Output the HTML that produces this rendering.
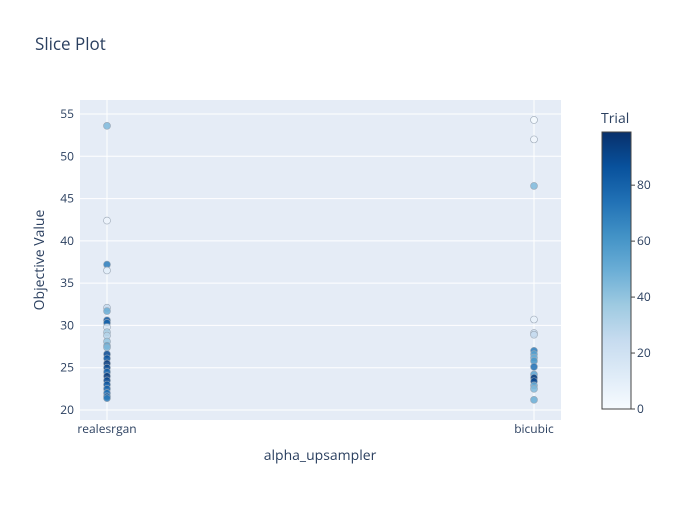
<!DOCTYPE html>
<html><head><meta charset="utf-8"><style>
body{margin:0;background:#fff;font-family:"Liberation Sans",sans-serif}
svg text{font-family:"Open Sans","Liberation Sans",sans-serif;fill:#2a3f5f}
</style></head><body>
<svg id="c" width="700" height="500">
<defs><linearGradient id="blues" x1="0" y1="1" x2="0" y2="0">
<stop offset="0" stop-color="rgb(247,251,255)"/><stop offset="0.125" stop-color="rgb(222,235,247)"/>
<stop offset="0.25" stop-color="rgb(198,219,239)"/><stop offset="0.375" stop-color="rgb(158,202,225)"/>
<stop offset="0.5" stop-color="rgb(107,174,214)"/><stop offset="0.625" stop-color="rgb(66,146,198)"/>
<stop offset="0.75" stop-color="rgb(33,113,181)"/><stop offset="0.875" stop-color="rgb(8,81,156)"/>
<stop offset="1" stop-color="rgb(8,48,107)"/></linearGradient></defs>
<rect width="700" height="500" fill="#fff"/>
<text x="35" y="50" font-size="17">Slice Plot</text>
<rect x="80" y="100" width="481" height="320" fill="#e5ecf6"/>
<g id="grid"></g><g id="pts"></g>
<text x="320" y="460" font-size="14" text-anchor="middle">alpha_upsampler</text>
<text transform="translate(44,260) rotate(-90)" font-size="14" text-anchor="middle">Objective Value</text>
<text x="601" y="123" font-size="14">Trial</text>
<rect x="602" y="132" width="29" height="277" fill="url(#blues)" stroke="#444" stroke-width="1"/>
<g id="cb"></g>
</svg>
<script>
const categories=["realesrgan","bicubic"];
const realVals=[53.6,42.4,37.2,36.5,32.1,31.7,30.6,30.3,29.8,29.2,28.8,28.1,27.6,27.4,26.6,26.1,25.5,25.0,24.5,24.0,23.5,23.0,22.5,22.0,21.6,21.4];
const realTrials=[45,5,70,10,25,50,85,80,15,35,30,40,55,45,90,85,95,90,80,95,90,85,80,75,85,70];
const bicVals=[54.3,52.0,46.5,30.7,29.1,28.9,27.0,26.6,26.2,25.8,25.1,24.2,23.8,23.4,22.9,22.5,21.2];
const bicTrials=[1,3,45,8,20,25,70,55,50,60,75,55,95,90,50,45,50];
const yTicks=[20,25,30,35,40,45,50,55];
const cbTicks=[0,20,40,60,80];
const NS="http://www.w3.org/2000/svg";
const xs=c=>({realesrgan:107,bicubic:534})[c];
const ys=v=>410-(v-20)*8.457;
const cmax=99;
const stops=[[247,251,255],[222,235,247],[198,219,239],[158,202,225],[107,174,214],[66,146,198],[33,113,181],[8,81,156],[8,48,107]];
function col(t){let f=Math.max(0,Math.min(1,t/cmax))*8,i=Math.min(7,Math.floor(f)),r=f-i;
 const a=stops[i],b=stops[i+1];return `rgb(${a.map((v,k)=>Math.round(v+(b[k]-v)*r)).join(',')})`;}
function mk(tag,at){const e=document.createElementNS(NS,tag);for(const k in at)e.setAttribute(k,at[k]);return e;}
const grid=document.getElementById('grid');
yTicks.forEach(v=>{
 const l=mk('line',{x1:80,x2:561,y1:ys(v),y2:ys(v),stroke:'#fff','stroke-width':1});
 
 
 grid.appendChild(l);
 const t=mk('text',{x:74,y:ys(v)+4,'font-size':12,'text-anchor':'end'});t.textContent=v;
 
 
 grid.appendChild(t);
});
categories.forEach(c=>{
 const l=mk('line',{x1:xs(c),x2:xs(c),y1:100,y2:420,stroke:'#fff','stroke-width':1});
 
 
 grid.appendChild(l);
 const t=mk('text',{x:xs(c),y:433,'font-size':12,'text-anchor':'middle'});t.textContent=c;
 
 
 grid.appendChild(t);
});
const pts=document.getElementById('pts');
function draw(cat,vals,trials){vals.forEach((v,i)=>{
 const p=mk('circle',{cx:xs(cat),cy:ys(v),r:3.5,fill:col(trials[i]),stroke:'#9aa6b4','stroke-width':0.6,'fill-opacity':0.85});
 
 
 pts.appendChild(p);});}
draw('realesrgan',realVals,realTrials);
draw('bicubic',bicVals,bicTrials);
const cb=document.getElementById('cb');
cbTicks.forEach(v=>{const y=409-v/cmax*277;
 const l=mk('line',{x1:631,x2:635,y1:y,y2:y,stroke:'#444'});cb.appendChild(l);
 const t=mk('text',{x:637,y:y+4,'font-size':12});t.textContent=v;
 
 
 cb.appendChild(t);});
</script>
</body></html>
